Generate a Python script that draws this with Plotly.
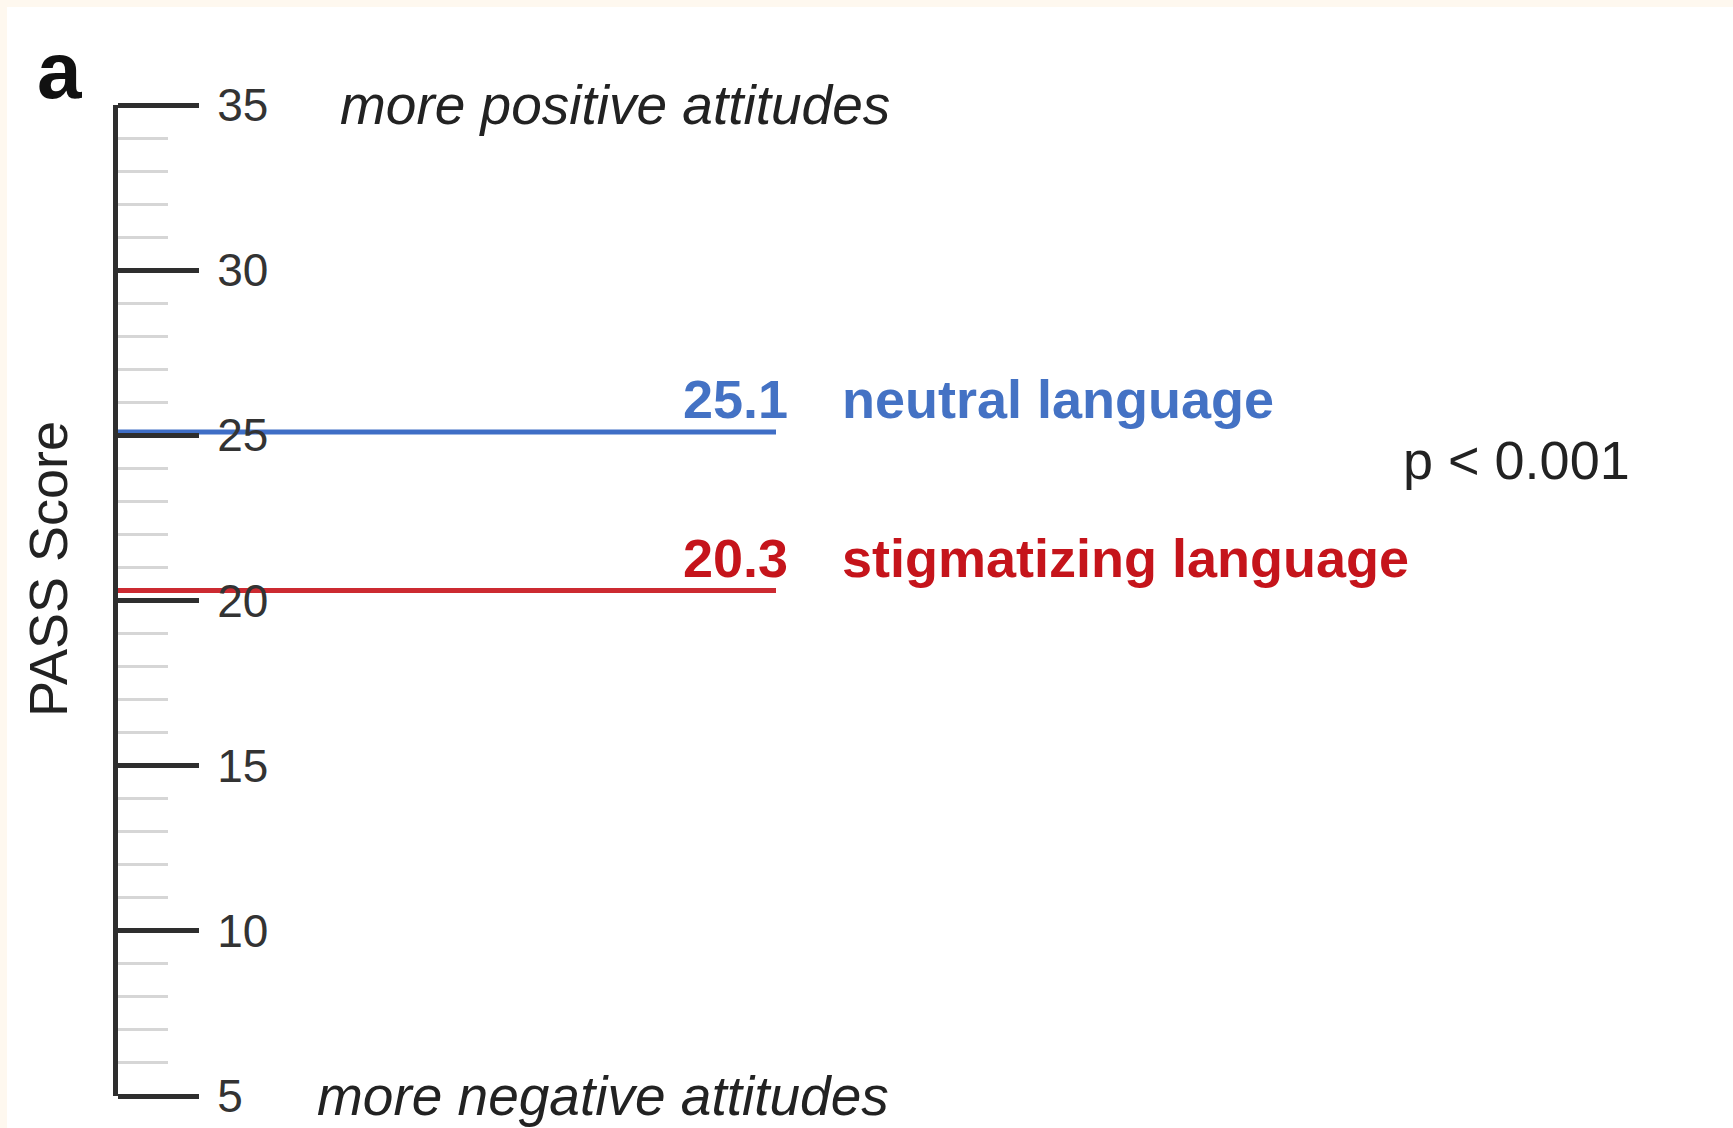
import plotly.graph_objects as go

# ---- data -------------------------------------------------------------
conditions = ["neutral language", "stigmatizing language"]
mean_scores = [25.1, 20.3]
condition_colors = ["#4472C4", "#C5141B"]
line_colors = ["#3F6EC6", "#CC2A31"]

major_ticks = [5, 10, 15, 20, 25, 30, 35]
top_note = "more positive attitudes"
bottom_note = "more negative attitudes"
p_text = "p < 0.001"
axis_title = "PASS Score"
panel_label = "a"

# ---- page geometry (pixels) -------------------------------------------
W, H = 1733, 1128
ML, MR, MT, MB = 115, 0, 105, 32
PW = W - ML - MR
PH = H - MT - MB
FONT = "Liberation Sans, Arial, Helvetica, sans-serif"


def px(x):
    """pixel column -> paper x"""
    return (x - ML) / PW


def py(y):
    """pixel row -> paper y"""
    return (H - MB - y) / PH


LINE_END = px(776)

fig = go.Figure()

for name, score, lc in zip(conditions, mean_scores, line_colors):
    fig.add_trace(go.Scatter(
        x=[0, LINE_END], y=[score, score], mode="lines",
        line=dict(color=lc, width=5), name=name,
        hoverinfo="skip", showlegend=False,
    ))

annotations = []
for name, score, tc in zip(conditions, mean_scores, condition_colors):
    annotations.append(dict(
        x=px(790), xref="paper", y=score, yref="y", yshift=33,
        text=f"{score:.1f}", showarrow=False, xanchor="right", yanchor="middle",
        font=dict(family=FONT, size=54, color=tc, weight="bold"),
    ))
    annotations.append(dict(
        x=px(840), xref="paper", y=score, yref="y", yshift=33,
        text=name, showarrow=False, xanchor="left", yanchor="middle",
        font=dict(family=FONT, size=54, color=tc, weight="bold"),
    ))

annotations += [
    dict(x=px(338), xref="paper", y=max(major_ticks), yref="y",
         text=f"<i>{top_note}</i>", showarrow=False, xanchor="left", yanchor="middle",
         font=dict(family=FONT, size=55, color="#222222")),
    dict(x=px(315), xref="paper", y=min(major_ticks), yref="y",
         text=f"<i>{bottom_note}</i>", showarrow=False, xanchor="left", yanchor="middle",
         font=dict(family=FONT, size=55, color="#222222")),
    dict(x=px(1401), xref="paper", y=py(460), yref="paper",
         text=p_text, showarrow=False, xanchor="left", yanchor="middle",
         font=dict(family=FONT, size=54, color="#222222")),
    dict(x=px(48), xref="paper", y=py(569), yref="paper",
         text=axis_title, textangle=-90, showarrow=False,
         xanchor="center", yanchor="middle",
         font=dict(family=FONT, size=54, color="#222222")),
    dict(x=px(59), xref="paper", y=py(70), yref="paper",
         text=f"<b>{panel_label}</b>", showarrow=False,
         xanchor="center", yanchor="middle",
         font=dict(family=FONT, size=80, color="#111111")),
]

# thin cream strip along the left and top edges of the page
shapes = [
    dict(type="rect", xref="paper", yref="paper", x0=px(0), x1=px(7),
         y0=py(H), y1=py(0), fillcolor="#FEF8EF", line_width=0, layer="below"),
    dict(type="rect", xref="paper", yref="paper", x0=px(0), x1=px(W),
         y0=py(7), y1=py(0), fillcolor="#FEF8EF", line_width=0, layer="below"),
]

fig.update_layout(
    width=W, height=H,
    margin=dict(l=ML, r=MR, t=MT, b=MB),
    paper_bgcolor="white", plot_bgcolor="white",
    showlegend=False,
    annotations=annotations,
    shapes=shapes,
    xaxis=dict(range=[0, 1], visible=False, fixedrange=True),
    yaxis=dict(
        range=[min(major_ticks), max(major_ticks)],
        side="right", anchor="free", position=0,
        tickvals=major_ticks,
        showline=True, linewidth=5, linecolor="#2E2E2E",
        ticks="outside", ticklen=81, tickwidth=5, tickcolor="#2E2E2E",
        minor=dict(dtick=1, ticks="outside", ticklen=50, tickwidth=3,
                   tickcolor="#D6D6D6", showgrid=False),
        showgrid=False, zeroline=False,
        tickfont=dict(family=FONT, size=46, color="#333333"),
        ticklabelstandoff=9,
        fixedrange=True,
    ),
)

fig.write_html("out.html", config={"displayModeBar": False})
